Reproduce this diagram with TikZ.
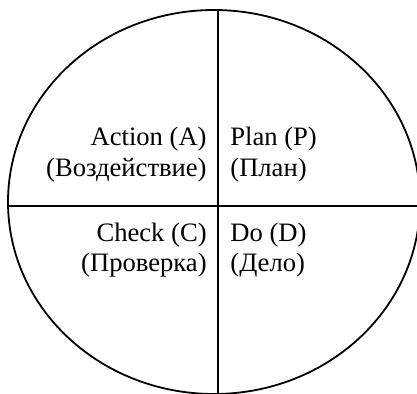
\documentclass[tikz,border=0pt]{standalone}
\usepackage{fontspec}
\setmainfont{Liberation Serif}
\begin{document}
\begin{tikzpicture}[x=0.5pt,y=-0.5pt,
  lbl/.style={inner sep=0pt,font=\fontsize{13.3}{15.5}\selectfont},
  lr/.style={lbl,anchor=base east},
  ll/.style={lbl,anchor=base west},
  ln/.style={line width=0.9pt,black}]
\useasboundingbox (0,0) rectangle (417,394);
\clip (0,0) rectangle (417,394);
\draw[ln] (214,202) ellipse [x radius=206,y radius=192];
\coordinate (vt) at (218,10);
\coordinate (vb) at (218,394);
\coordinate (hl) at (8,206);
\coordinate (hr) at (417,206);
\draw[ln] (vt) -- (vb);
\draw[ln] (hl) -- (hr);
\node[lr] (a1) at (207,146) {Action (A)};
\node[lr] (a2) at (207,177) {(Воздействие)};
\node[ll] (p1) at (230,146) {Plan (P)};
\node[ll] (p2) at (230,177) {(План)};
\node[lr] (c1) at (207,242) {Check (C)};
\node[lr] (c2) at (207,272) {(Проверка)};
\node[ll] (d1) at (230,242) {Do (D)};
\node[ll] (d2) at (230,272) {(Дело)};
\end{tikzpicture}
\end{document}
